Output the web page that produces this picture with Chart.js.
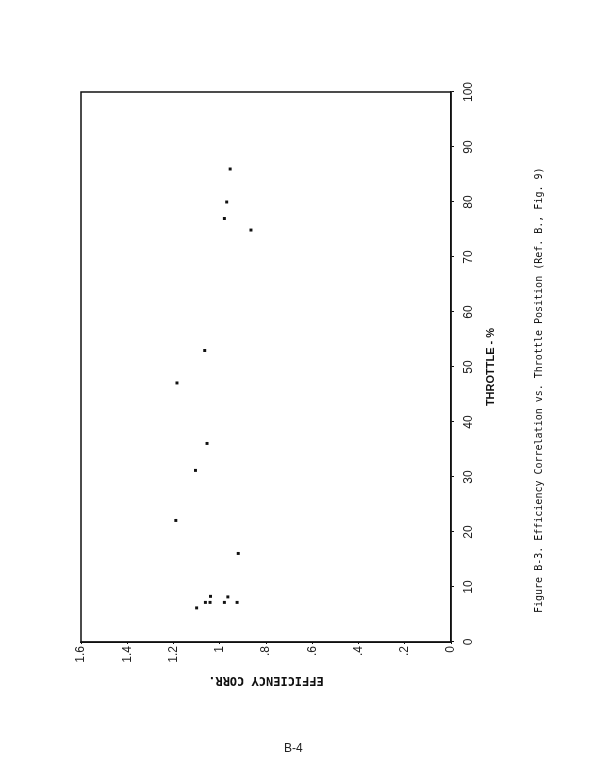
<!DOCTYPE html>
<html>
<head>
<meta charset="utf-8">
<script src="https://cdn.jsdelivr.net/npm/chart.js@4.4.1/dist/chart.umd.min.js"></script>
<style>
  html, body { margin: 0; padding: 0; background: #fff; width: 612px; height: 779px; overflow: hidden; }
  #page { position: absolute; left: 0; top: 779px; width: 779px; height: 612px;
          transform-origin: 0 0; transform: rotate(-90deg); }
  #mycanvas { position: absolute; left: 0; top: 0; }
  #caption { position: absolute; left: 166px; top: 533px; font: 10px "DejaVu Sans Mono", monospace;
             color: #111; white-space: nowrap; }
  #pageno { position: absolute; left: 284px; top: 741px; font: 12px "Liberation Sans Narrow", "Liberation Sans", sans-serif;
            color: #222; }
</style>
</head>
<body>
<div id="page">
  <canvas id="mycanvas" width="779" height="612"></canvas>
  <div id="caption">Figure B-3.  Efficiency Correlation vs. Throttle Position (Ref. B., Fig. 9)</div>
</div>
<div id="pageno">B-4</div>
<script>
// values
var Throttle = [6.2, 7.2, 7.2, 7.2, 7.2, 8.3, 8.2, 16.1, 22.1, 31.2, 36.1, 47.1, 53.0, 74.9, 77.0, 80.0, 86.0];
var EffCorr  = [1.10, 1.062, 1.042, 0.98, 0.925, 1.04, 0.965, 0.92, 1.19, 1.105, 1.055, 1.185, 1.065, 0.865, 0.98, 0.97, 0.955];
var throttleTicks = [0, 10, 20, 30, 40, 50, 60, 70, 80, 90, 100];
var effTicks = ["0", ".2", ".4", ".6", ".8", "1", "1.2", "1.4", "1.6"];

var points = [];
for (var i in Throttle) {
	points.push({x: Throttle[i], y: EffCorr[i]});
}

var tickFont = {family: "'Liberation Sans Narrow', 'Liberation Sans', sans-serif", size: 12};

// full box round the plot
var framePlugin = {
	id: 'frame',
	afterDraw: function(chart) {
		var a = chart.chartArea, c = chart.ctx;
		c.save();
		c.strokeStyle = '#111';
		c.lineWidth = 1.5;
		c.strokeRect(a.left, a.top, a.right - a.left, a.bottom - a.top);
		c.restore();
	}
};

var ctx = document.getElementById('mycanvas');

var ScatterGraph = new Chart(ctx, {
	type: 'scatter',
	data: {
		datasets: [{
			label: "Efficiency corr.",
			data: points,
			pointStyle: 'rect',
			pointRadius: 2.1,
			backgroundColor: '#111',
			borderColor: '#111',
			borderWidth: 0
		}]
	},
	options: {
		responsive: false,
		animation: false,
		devicePixelRatio: 1,
		layout: { padding: { left: 80, right: 92, top: 81, bottom: 111 } },
		plugins: { legend: { display: false }, tooltip: { enabled: false } },
		scales: {
			x: {
				type: 'linear',
				min: 0, max: 100,
				afterBuildTicks: function(scale) {
					scale.ticks = throttleTicks.map(function(v) { return {value: v}; });
				},
				afterFit: function(scale) { scale.height = 50; },
				grid: { drawOnChartArea: false, tickLength: 3, color: '#111' },
				border: { color: '#111', width: 1.5 },
				ticks: { color: '#222', font: tickFont, padding: 7, maxRotation: 0 },
				title: {
					display: true, text: 'THROTTLE - %', color: '#111',
					font: {family: "'Liberation Sans Narrow', 'Liberation Sans', sans-serif", size: 11, weight: 'bold'},
					padding: {top: 0, bottom: 3}
				}
			},
			y: {
				type: 'linear',
				min: 0, max: 1.6,
				afterBuildTicks: function(scale) {
					scale.ticks = effTicks.map(function(s, k) { return {value: k * 0.2}; });
				},
				afterFit: function(scale) { scale.width = 57; },
				grid: { drawOnChartArea: false, tickLength: 2, color: '#111' },
				border: { color: '#111', width: 1.5 },
				ticks: {
					color: '#222', font: tickFont, padding: 2,
					callback: function(value, index) { return effTicks[index]; }
				},
				title: {
					display: true, text: 'EFFICIENCY CORR.', color: '#111',
					font: {family: "'DejaVu Sans Mono', monospace", size: 12, weight: 'bold'},
					padding: {top: 12, bottom: 0}
				}
			}
		}
	},
	plugins: [framePlugin]
});
</script>
</body>
</html>
